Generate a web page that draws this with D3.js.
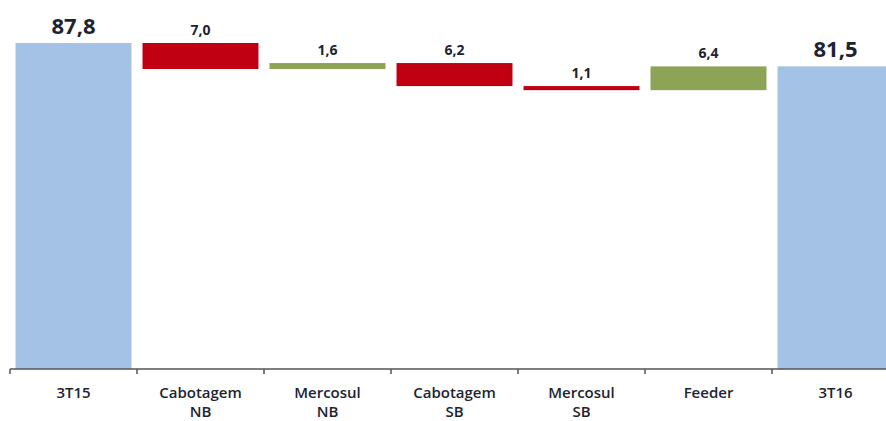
<!DOCTYPE html>
<html lang="pt">

<head>
    <meta charset="utf-8">
    <title>waterfall</title>
    <script src="https://cdn.jsdelivr.net/npm/d3@7"></script>
</head>
<style>
    body {
        margin: 0;
        background: #fff;
    }

    .axis text {
        font-family: "Open Sans", sans-serif;
        font-size: 15px;
        font-weight: 600;
        fill: #1c2433;
    }
</style>

<body>
    <script>
        // categorias (linhas do rótulo)
        var categories = [["3T15"], ["Cabotagem", "NB"], ["Mercosul", "NB"], ["Cabotagem", "SB"], ["Mercosul", "SB"], ["Feeder"], ["3T16"]];
        // valores: totais nas pontas, variações no meio
        var values = [87.8, -7.0, 1.6, -6.2, -1.1, 6.4, 81.5];
        var kinds = ["total", "delta", "delta", "delta", "delta", "delta", "total"];
        var labels = ["87,8", "7,0", "1,6", "6,2", "1,1", "6,4", "81,5"];

        var width = 886, height = 421;
        var colors = { total: "#a4c2e6", up: "#8da356", down: "#c00012" };

        // monta as barras
        var running = 0;
        var bars = values.map(function (v, i) {
            var key = categories[i].join(" ");
            if (kinds[i] == "total") {
                running = v;
                return { key: key, y0: 0, y1: v, kind: "total", label: labels[i] };
            }
            var start = running;
            running = running + v;
            return { key: key, y0: start, y1: running, kind: v > 0 ? "up" : "down", label: labels[i] };
        });

        var svg = d3.select("body")
            .append("svg")
            .attr("width", width)
            .attr("height", height);

        var x = d3.scaleBand()
            .domain(bars.map(d => d.key))
            .range([10, 899])
            .paddingInner(0.087)
            .paddingOuter(0.0435);

        var y = d3.scaleLinear()
            .domain([0, 87.8])
            .range([369, 43]);

        svg.append("g")
            .selectAll("rect")
            .data(bars)
            .join("rect")
            .attr("x", d => x(d.key))
            .attr("width", x.bandwidth())
            .attr("y", d => y(Math.max(d.y0, d.y1)))
            .attr("height", d => Math.abs(y(d.y0) - y(d.y1)))
            .attr("fill", d => colors[d.kind]);

        // rótulos de valor
        svg.append("g")
            .selectAll("text")
            .data(bars)
            .join("text")
            .attr("x", d => x(d.key) + x.bandwidth() / 2)
            .attr("y", d => y(Math.max(d.y0, d.y1)) - (d.kind == "total" ? 9 : 8))
            .attr("text-anchor", "middle")
            .attr("font-family", "Open Sans, sans-serif")
            .attr("font-weight", 700)
            .attr("font-size", d => d.kind == "total" ? 22 : 14)
            .attr("fill", "#1c2433")
            .text(d => d.label);

        // eixo
        var axis = svg.append("g")
            .attr("class", "axis")
            .attr("transform", "translate(0," + y(0) + ")");

        axis.append("line")
            .attr("x1", 10)
            .attr("x2", width)
            .attr("stroke", "#555")
            .attr("stroke-width", 1.5);

        axis.selectAll(".tick-mark")
            .data(bars)
            .join("line")
            .attr("class", "tick-mark")
            .attr("x1", d => x(d.key) - x.step() * x.paddingInner() / 2)
            .attr("x2", d => x(d.key) - x.step() * x.paddingInner() / 2)
            .attr("y1", 0)
            .attr("y2", 5)
            .attr("stroke", "#555")
            .attr("stroke-width", 1.5);

        axis.selectAll("text")
            .data(categories)
            .join("text")
            .attr("x", (d, i) => x(bars[i].key) + x.bandwidth() / 2)
            .attr("y", 29)
            .attr("text-anchor", "middle")
            .selectAll("tspan")
            .data(d => d)
            .join("tspan")
            .attr("x", function () { return this.parentNode.getAttribute("x"); })
            .attr("dy", (d, i) => i == 0 ? 0 : 19)
            .text(d => d);
    </script>
</body>

</html>
